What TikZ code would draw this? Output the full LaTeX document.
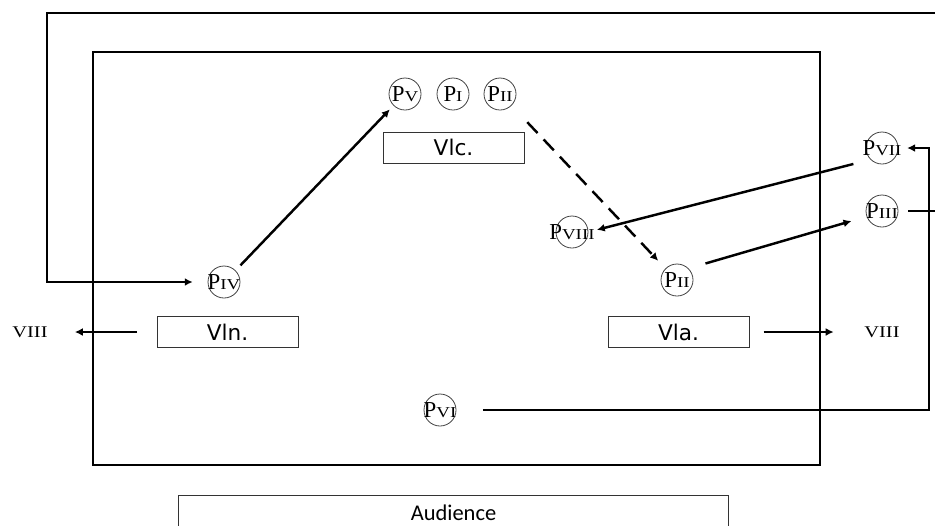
\documentclass[tikz,border=0pt]{standalone}
\usepackage{fontspec}
\setmainfont{Liberation Serif}
\newfontfamily\boxfont{DejaVu Sans}
\newfontfamily\audfont{Carlito}
\newfontfamily\numfont[FakeStretch=1.25]{Liberation Serif}
\usetikzlibrary{arrows.meta}
\begin{document}
\begin{tikzpicture}[x=0.02cm, y=-0.02cm,
    pnode/.style={circle, draw=black!75, line width=0.45pt, minimum size=0.64cm, inner sep=0pt},
    part/.style={draw=black!80, line width=0.55pt, minimum width=2.82cm, minimum height=0.62cm,
      inner sep=0pt, font=\boxfont\fontsize{12.3}{13}\selectfont},
    conn/.style={line width=1.4pt, -{Latex[length=4.5pt,width=4.5pt]}},
    wire/.style={line width=1.4pt}]
      \def\pl#1{\makebox[0pt]{\fontsize{13}{13}\selectfont P{\numfont\fontsize{8.6}{9}\selectfont #1}}}
      \def\rx{929}
      \useasboundingbox (0,0) rectangle (935,525);
      \clip (0,0) rectangle (935,525);
      % stage
      \draw[line width=0.9pt] (93,52) rectangle (820,465);
      % players
      \node[pnode] (pV) at (405,94) {\pl{V}};
      \node[pnode] (pI) at (453,94) {\pl{I}};
      \node[pnode] (pIIa) at (500,94) {\pl{II}};
      \node[pnode] (pIV) at (224,282) {\pl{IV}};
      \node[pnode] (pVIII) at (572,232) {\pl{VIII}};
      \node[pnode] (pIIb) at (677,280) {\pl{II}};
      \node[pnode] (pVII) at (882,148) {\pl{VII}};
      \node[pnode] (pIII) at (882,211) {\pl{III}};
      \node[pnode] (pVI) at (440,410) {\pl{VI}};
      % desks
      \node[part] (vlc) at (453.5,147.5) {Vlc.};
      \node[part] (vln) at (227.5,332) {Vln.};
      \node[part] (vla) at (678.5,332) {Vla.};
      \node[draw=black!80, line width=0.55pt, anchor=north, minimum width=11.02cm, minimum height=0.7cm,
        font=\audfont\fontsize{12.8}{13}\selectfont] (aud) at (453.5,495) {Audience};
      \node[font=\numfont\fontsize{9.3}{10}\selectfont] (viiiL) at (30,332) {VIII};
      \node[font=\numfont\fontsize{9.3}{10}\selectfont] (viiiR) at (882,332) {VIII};
      % moves
      \draw[conn, shorten <=4pt, shorten >=3pt] (pIV.north east) -- (pV.south west);
      \draw[conn, dash pattern=on 8.5pt off 5pt, shorten <=13pt, shorten >=6pt] (pIIa.south east) -- (pIIb.north west);
      \draw[conn, shorten <=10pt, shorten >=5pt] (pVII.south west) -- (pVIII.east);
      \draw[conn, shorten <=10pt, shorten >=9pt] (pIIb.north east) -- (pIII.200);
      \draw[conn, shorten <=11pt, shorten >=12pt] (vln.west) -- (viiiL.east);
      \draw[conn, shorten <=8pt, shorten >=14pt] (vla.east) -- (viiiR.west);
      % outer routes
      \coordinate (topR) at (935,13);
      \coordinate (topL) at (47,13);
      \coordinate (edgeR) at (935,211);
      \coordinate (turnB) at (\rx,408);
      \coordinate (turnT) at (\rx,148);
      \draw[conn, shorten >=8.5pt] (topR) -- (topL) |- (pIV.west);
      \draw[conn, shorten <=15pt, shorten >=5pt] (pVI.east) -- (pVI.east -| turnB) -- (turnT) -- (pVII.east);
      \draw[wire, shorten <=5.5pt] (pIII.east) -- (edgeR);
    \end{tikzpicture}
\end{document}
